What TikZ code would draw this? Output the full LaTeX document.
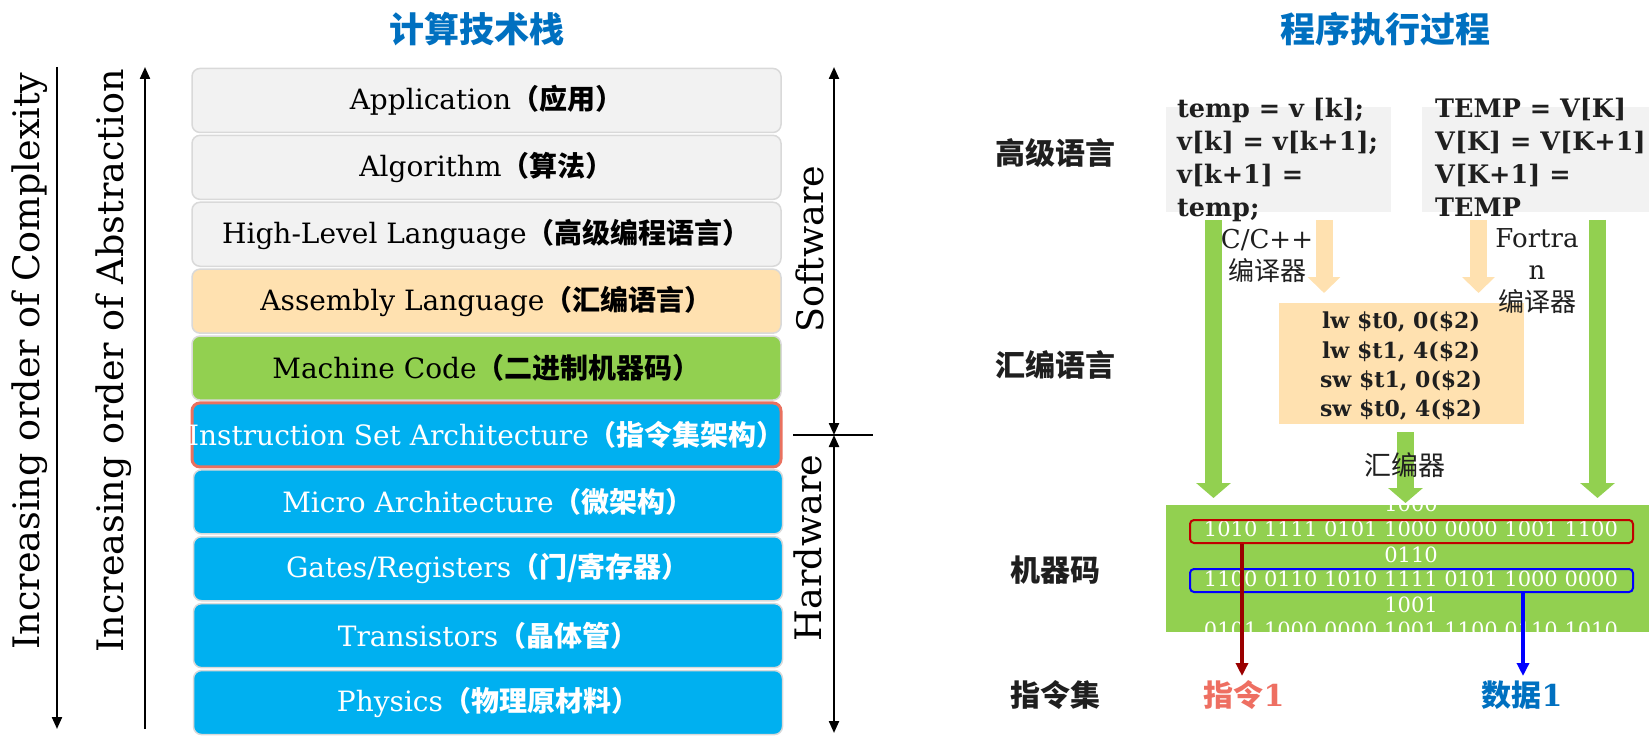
\documentclass[tikz,border=0pt]{standalone}
\usepackage{fontspec}
\setmainfont{DejaVu Serif}
\newfontfamily\cjk{Noto Sans CJK SC}
\usetikzlibrary{arrows.meta}
\definecolor{ttlblue}{HTML}{0070C0}
\definecolor{layerborder}{HTML}{D9D9D9}
\definecolor{lgray}{HTML}{F2F2F2}
\definecolor{lorange}{HTML}{FFE1B0}
\definecolor{mgreen}{HTML}{92D050}
\definecolor{skyblue}{HTML}{00B0F0}
\definecolor{isared}{HTML}{E9715F}
\definecolor{salmon}{HTML}{EE6F62}
\definecolor{darkred}{HTML}{9A0000}
\definecolor{selred}{HTML}{C00000}
\definecolor{txtdark}{HTML}{1F1F1F}
\newcommand\zh[1]{{\cjk\bfseries #1}}
\newcommand\fs[2]{\fontsize{#1}{#2}\selectfont}
\begin{document}
\begin{tikzpicture}[x=1pt,y=-1pt,
  layer/.style={draw=layerborder, line width=1.5pt, rounded corners=8pt,
    minimum width=589pt, minimum height=64pt, inner sep=0pt, font=\fs{28}{34}},
  sidelbl/.style={rotate=90, inner sep=0pt, font=\fs{36.5}{40}},
  thinarrow/.style={line width=2.2pt, -{Triangle[width=10pt,length=12pt]}},
  botharrow/.style={line width=2.2pt, {Triangle[width=10pt,length=12pt]}-{Triangle[width=10pt,length=12pt]}},
  title/.style={font=\cjk\bfseries\fs{35}{40}, text=ttlblue, inner sep=0pt},
  rowlbl/.style={font=\cjk\bfseries\fs{30}{36}, text=txtdark, inner sep=0pt},
  codebox/.style={fill=lgray, inner sep=0pt},
  code/.style={anchor=base west, inner sep=0pt, font=\bfseries\fs{25.5}{33}, text=txtdark},
  asm/.style={anchor=base, inner sep=0pt, font=\bfseries\fs{22}{29}, text=txtdark},
  bits/.style={inner sep=0pt, font=\fs{21}{25}, text=white},
  note/.style={inner sep=0pt, font=\fs{26}{32}, text=txtdark, align=center},
  garrow/.style={draw=mgreen, line width=17pt, -{Triangle[width=34pt,length=15pt]}},
  oarrow/.style={draw=lorange, line width=17pt, -{Triangle[width=32pt,length=16pt]}},
  sel/.style={rounded corners=4pt, line width=2pt, minimum width=443pt, minimum height=23pt, inner sep=0pt},
  selarrow/.style={line width=4pt, -{Triangle[width=12pt,length=13pt]}}
]
\useasboundingbox (0,0) rectangle (1649,738);

% titles
\node[title] (t1) at (477,29) {计算技术栈};
\node[title] (t2) at (1385,29) {程序执行过程};

% stack
\node[layer, fill=lgray] (app) at (486.5,100.45) {\makebox[0pt][c]{Application\zh{（应用）}}};
\node[layer, fill=lgray] (alg) at (486.5,167.35) {\makebox[0pt][c]{Algorithm\zh{（算法）}}};
\node[layer, fill=lgray] (hll) at (486.5,234.25) {\makebox[0pt][c]{High-Level Language\zh{（高级编程语言）}}};
\node[layer, fill=lorange] (asl) at (486.5,301.15) {\makebox[0pt][c]{Assembly Language\zh{（汇编语言）}}};
\node[layer, fill=mgreen] (mcl) at (486.5,368.05) {\makebox[0pt][c]{Machine Code\zh{（二进制机器码）}}};
\node[layer, fill=skyblue, draw=isared, line width=3pt, text=white] (isa) at (486.5,434.95) {\makebox[0pt][c]{Instruction Set Architecture\zh{（指令集架构）}}};
\node[layer, fill=skyblue, text=white] (mic) at (488,501.85) {\makebox[0pt][c]{Micro Architecture\zh{（微架构）}}};
\node[layer, fill=skyblue, text=white] (gat) at (488,568.75) {\makebox[0pt][c]{Gates/Registers\zh{（门/寄存器）}}};
\node[layer, fill=skyblue, text=white] (tra) at (488,635.65) {\makebox[0pt][c]{Transistors\zh{（晶体管）}}};
\node[layer, fill=skyblue, text=white] (phy) at (488,702.55) {\makebox[0pt][c]{Physics\zh{（物理原材料）}}};

% left axes
\node[sidelbl] (cplx) at (30,361) {Increasing order of Complexity};
\node[sidelbl] (abst) at (114,361) {Increasing order of Abstraction};
\coordinate (c1) at (57,67); \coordinate (c2) at (57,729);
\draw[thinarrow] (c1) -- (c2);
\coordinate (a1) at (145,729); \coordinate (a2) at (145,67);
\draw[thinarrow] (a1) -- (a2);

% right bracket
\node[sidelbl] (sw) at (810,249) {Software};
\node[sidelbl] (hw) at (808,548) {Hardware};
\coordinate (b1) at (834,67); \coordinate (b2) at (834,435); \coordinate (b3) at (834,733);
\coordinate (h1) at (793,435); \coordinate (h2) at (873,435);
\draw[botharrow] (b1) -- (b2);
\draw[botharrow] (b2) -- (b3);
\draw[line width=2.2pt] (h1) -- (h2);

% right: row labels
\node[rowlbl] (r1) at (1055,153) {高级语言};
\node[rowlbl] (r2) at (1055,365) {汇编语言};
\node[rowlbl] (r3) at (1055,570) {机器码};
\node[rowlbl] (r4) at (1055,695) {指令集};

% high-level code boxes
\node[codebox, minimum width=225pt, minimum height=105pt] (hl1) at (1278.5,159.5) {};
\node[codebox, minimum width=227pt, minimum height=105pt] (hl2) at (1535.5,159.5) {};
\node[code] (hl1a) at (1177,118) {temp = v [k];};
\node[code] (hl1b) at (1177,151) {v[k] = v[k+1];};
\node[code] (hl1c) at (1177,184) {v[k+1] =};
\node[code] (hl1d) at (1177,217) {temp;};
\node[code] (hl2a) at (1435,118) {TEMP = V[K]};
\node[code] (hl2b) at (1435,151) {V[K] = V[K+1]};
\node[code] (hl2c) at (1435,184) {V[K+1] =};
\node[code] (hl2d) at (1435,217) {TEMP};

% compiler arrows
\coordinate (o1s) at (1324,220); \coordinate (o1e) at (1324,293);
\coordinate (o2s) at (1478.5,220); \coordinate (o2e) at (1478.5,293);
\draw[oarrow] (o1s) -- (o1e);
\draw[oarrow] (o2s) -- (o2e);

% assembly box
\node[fill=lorange, inner sep=0pt, minimum width=245pt, minimum height=121pt] (asmb) at (1401.5,363.5) {};
\node[asm] (as1) at (1401,328) {lw \$t0, 0(\$2)};
\node[asm] (as2) at (1401,358) {lw \$t1, 4(\$2)};
\node[asm] (as3) at (1401,387) {sw \$t1, 0(\$2)};
\node[asm] (as4) at (1401,416) {sw \$t0, 4(\$2)};

% compiler notes (on top)
\node[note] (cc) at (1267,256) {C/C++\\\cjk 编译器};
\node[note] (ff) at (1537,271) {Fortra\\n\\\cjk 编译器};

% green arrows
\coordinate (g1s) at (1213.5,220); \coordinate (g1e) at (1213.5,498);
\coordinate (g2s) at (1597.5,220); \coordinate (g2e) at (1597.5,498);
\coordinate (g3s) at (1405.5,432); \coordinate (g3e) at (1405.5,503);
\draw[garrow] (g1s) -- (g1e);
\draw[garrow] (g2s) -- (g2e);
\draw[garrow] (g3s) -- (g3e);
\node[inner sep=0pt, font=\cjk\fs{27}{32}, text=txtdark] (asmr) at (1405,465) {汇编器};

% machine code box
\node[fill=mgreen, inner sep=0pt, minimum width=483pt, minimum height=127pt] (mc) at (1407.5,568.5) {};
\begin{scope}
\clip (1166,505) rectangle (1649,632);
\node[bits] (m0) at (1411,504) {1000};
\node[bits] (m1) at (1411,529) {1010 1111 0101 1000 0000 1001 1100};
\node[bits] (m2) at (1411,555) {0110};
\node[bits] (m3) at (1411,579) {1100 0110 1010 1111 0101 1000 0000};
\node[bits] (m4) at (1411,605) {1001};
\node[bits] (m5) at (1411,630) {0101 1000 0000 1001 1100 0110 1010};
\end{scope}
\node[sel, draw=selred] (rsel) at (1411.5,531.5) {};
\node[sel, draw=blue] (bsel) at (1411.5,580.5) {};

% outputs
\node[inner sep=0pt, text=salmon, font=\fs{30}{36}] (ins) at (1244,695) {{\cjk\bfseries 指令}{\bfseries 1}};
\node[inner sep=0pt, text=ttlblue, font=\fs{30}{36}] (dat) at (1522,695) {{\cjk\bfseries 数据}{\bfseries 1}};
\coordinate (insT) at (1242,676);
\coordinate (datT) at (1523,676);
\draw[selarrow, draw=darkred, fill=darkred] (rsel.south -| insT) -- (insT);
\draw[selarrow, draw=blue, fill=blue] (bsel.south -| datT) -- (datT);
\end{tikzpicture}
\end{document}
